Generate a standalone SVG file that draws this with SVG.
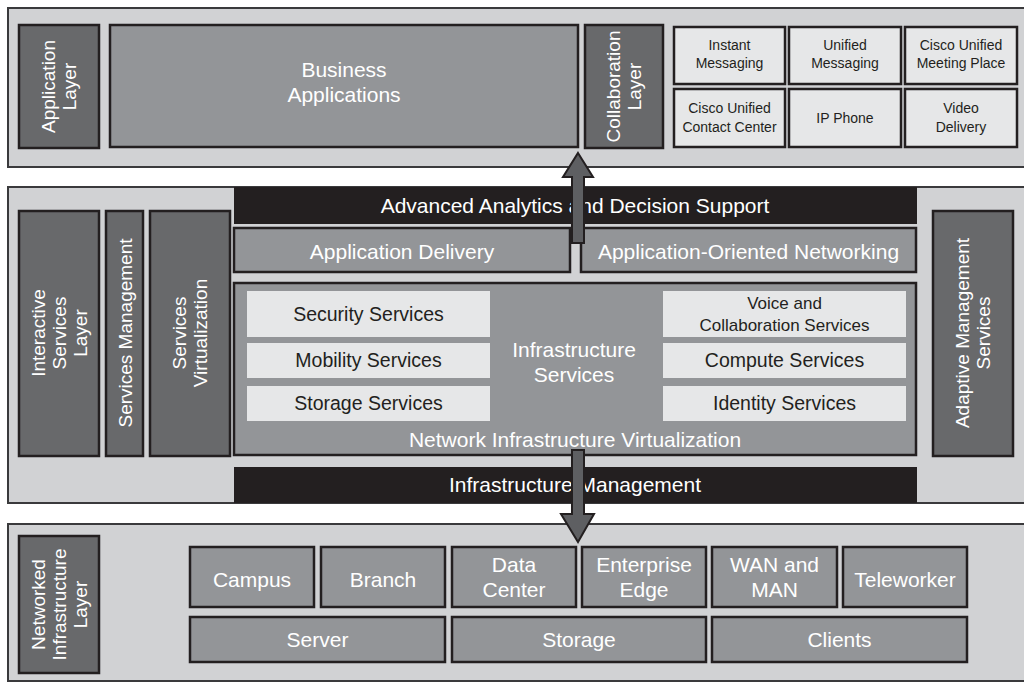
<svg xmlns="http://www.w3.org/2000/svg" width="1024" height="683" viewBox="0 0 1024 683">
<style>
.layer{fill:#d1d2d4;stroke:#3a3a3c;stroke-width:2}
.dark{fill:#68696b;stroke:#231f20;stroke-width:2.5}
.mid{fill:#939598;stroke:#231f20;stroke-width:2.5}
.lite{fill:#e6e7e8;stroke:#231f20;stroke-width:2.5}
.svc{fill:#e6e7e8}
.blk{fill:#231f20}
.arrow{fill:#5e5f62;stroke:#231f20;stroke-width:2}
text{font-family:"Liberation Sans",Arial,sans-serif;text-anchor:middle}
.w{fill:#ffffff;font-size:21px}
.k{fill:#231f20;font-size:19.5px}
.s{fill:#231f20;font-size:14px}
.v{fill:#ffffff;font-size:19px}
</style>
<rect width="1024" height="683" fill="#ffffff"/>

<g id="application-tier">
<rect class="layer" x="8" y="8" width="1030" height="159"/>
</g>
<g id="application-layer">
<rect class="dark" x="19" y="25" width="80" height="123"/>
<text class="v" transform="translate(59,86.5) rotate(-90)"><tspan x="0" y="-4">Application</tspan><tspan x="0" y="17">Layer</tspan></text>
</g>
<g id="business-applications">
<rect class="mid" x="110" y="25" width="468" height="122"/>
<text class="w" x="344" y="77">Business</text>
<text class="w" x="344" y="102">Applications</text>
</g>
<g id="collaboration-layer">
<rect class="dark" x="585" y="25" width="78" height="123"/>
<text class="v" transform="translate(624,86.5) rotate(-90)"><tspan x="0" y="-4">Collaboration</tspan><tspan x="0" y="17">Layer</tspan></text>
</g>
<g id="instant-messaging">
<rect class="lite" x="674" y="27" width="111" height="57"/>
<text class="s" x="729.5" y="50">Instant</text>
<text class="s" x="729.5" y="68">Messaging</text>
</g>
<g id="unified-messaging">
<rect class="lite" x="789" y="27" width="112" height="57"/>
<text class="s" x="845" y="50">Unified</text>
<text class="s" x="845" y="68">Messaging</text>
</g>
<g id="meeting-place">
<rect class="lite" x="905" y="27" width="112" height="57"/>
<text class="s" x="961" y="50">Cisco Unified</text>
<text class="s" x="961" y="68">Meeting Place</text>
</g>
<g id="contact-center">
<rect class="lite" x="674" y="89" width="111" height="58"/>
<text class="s" x="729.5" y="113">Cisco Unified</text>
<text class="s" x="729.5" y="132">Contact Center</text>
</g>
<g id="ip-phone">
<rect class="lite" x="789" y="89" width="112" height="58"/>
<text class="s" x="845" y="123">IP Phone</text>
</g>
<g id="video-delivery">
<rect class="lite" x="905" y="89" width="112" height="58"/>
<text class="s" x="961" y="113">Video</text>
<text class="s" x="961" y="132">Delivery</text>
</g>

<g id="services-tier">
<rect class="layer" x="8" y="187" width="1030" height="316"/>
</g>
<g id="advanced-analytics">
<rect class="blk" x="234" y="187" width="683" height="37"/>
<text class="w" x="575" y="213">Advanced Analytics and Decision Support</text>
</g>
<g id="application-delivery">
<rect class="mid" x="234" y="228" width="336" height="44"/>
<text class="w" x="402" y="259">Application Delivery</text>
</g>
<g id="application-oriented-networking">
<rect class="mid" x="581" y="228" width="335" height="44"/>
<text class="w" x="748.5" y="259">Application-Oriented Networking</text>
</g>
<g id="interactive-services-layer">
<rect class="dark" x="19" y="211" width="80" height="245"/>
<text class="v" transform="translate(59,333) rotate(-90)"><tspan x="0" y="-14">Interactive</tspan><tspan x="0" y="7">Services</tspan><tspan x="0" y="28">Layer</tspan></text>
</g>
<g id="services-management">
<rect class="dark" x="106" y="211" width="37" height="245"/>
<text class="v" transform="translate(124.5,333) rotate(-90)"><tspan x="0" y="7">Services Management</tspan></text>
</g>
<g id="services-virtualization">
<rect class="dark" x="150" y="211" width="80" height="245"/>
<text class="v" transform="translate(190,333) rotate(-90)"><tspan x="0" y="-4">Services</tspan><tspan x="0" y="17">Virtualization</tspan></text>
</g>
<g id="adaptive-management-services">
<rect class="dark" x="933" y="211" width="80" height="245"/>
<text class="v" transform="translate(973,333) rotate(-90)"><tspan x="0" y="-4">Adaptive Management</tspan><tspan x="0" y="17">Services</tspan></text>
</g>
<g id="network-infrastructure-virtualization">
<rect class="mid" x="234" y="283" width="682" height="172"/>
<text class="w" x="574" y="357">Infrastructure</text>
<text class="w" x="574" y="382">Services</text>
<text class="w" x="575" y="447">Network Infrastructure Virtualization</text>
</g>
<g id="security-services">
<rect class="svc" x="247" y="291" width="243" height="46"/>
<text class="k" x="368.5" y="321">Security Services</text>
</g>
<g id="mobility-services">
<rect class="svc" x="247" y="343" width="243" height="35"/>
<text class="k" x="368.5" y="367">Mobility Services</text>
</g>
<g id="storage-services">
<rect class="svc" x="247" y="386" width="243" height="35"/>
<text class="k" x="368.5" y="410">Storage Services</text>
</g>
<g id="voice-collaboration-services">
<rect class="svc" x="663" y="291" width="243" height="46"/>
<text class="k" x="784.5" y="309" style="font-size:17px">Voice and</text>
<text class="k" x="784.5" y="331" style="font-size:17px">Collaboration Services</text>
</g>
<g id="compute-services">
<rect class="svc" x="663" y="343" width="243" height="35"/>
<text class="k" x="784.5" y="367">Compute Services</text>
</g>
<g id="identity-services">
<rect class="svc" x="663" y="386" width="243" height="35"/>
<text class="k" x="784.5" y="410">Identity Services</text>
</g>
<g id="infrastructure-management">
<rect class="blk" x="234" y="467" width="683" height="36"/>
<text class="w" x="575" y="492">Infrastructure Management</text>
</g>

<g id="infrastructure-tier">
<rect class="layer" x="8" y="524" width="1030" height="157"/>
</g>
<g id="networked-infrastructure-layer">
<rect class="dark" x="19" y="536" width="80" height="137"/>
<text class="v" transform="translate(59,604.5) rotate(-90)"><tspan x="0" y="-14">Networked</tspan><tspan x="0" y="7">Infrastructure</tspan><tspan x="0" y="28">Layer</tspan></text>
</g>
<g id="campus">
<rect class="mid" x="190" y="547" width="124" height="60"/>
<text class="w" x="252" y="587">Campus</text>
</g>
<g id="branch">
<rect class="mid" x="321" y="547" width="124" height="60"/>
<text class="w" x="383" y="587">Branch</text>
</g>
<g id="data-center">
<rect class="mid" x="452" y="547" width="124" height="60"/>
<text class="w" x="514" y="572">Data</text>
<text class="w" x="514" y="597">Center</text>
</g>
<g id="enterprise-edge">
<rect class="mid" x="582" y="547" width="124" height="60"/>
<text class="w" x="644" y="572">Enterprise</text>
<text class="w" x="644" y="597">Edge</text>
</g>
<g id="wan-man">
<rect class="mid" x="712" y="547" width="125" height="60"/>
<text class="w" x="774.5" y="572">WAN and</text>
<text class="w" x="774.5" y="597">MAN</text>
</g>
<g id="teleworker">
<rect class="mid" x="843" y="547" width="124" height="60"/>
<text class="w" x="905" y="587">Teleworker</text>
</g>
<g id="server">
<rect class="mid" x="190" y="617" width="255" height="45"/>
<text class="w" x="317.5" y="647">Server</text>
</g>
<g id="storage">
<rect class="mid" x="452" y="617" width="254" height="45"/>
<text class="w" x="579" y="647">Storage</text>
</g>
<g id="clients">
<rect class="mid" x="712" y="617" width="255" height="45"/>
<text class="w" x="839.5" y="647">Clients</text>
</g>

<g id="connectors">
<polygon class="arrow" points="578,153 593,177 584,177 584,243 572,243 572,177 563,177"/>
<polygon class="arrow" points="572,450 584,450 584,514 594,514 578,542 561,514 572,514"/>
</g>
</svg>
